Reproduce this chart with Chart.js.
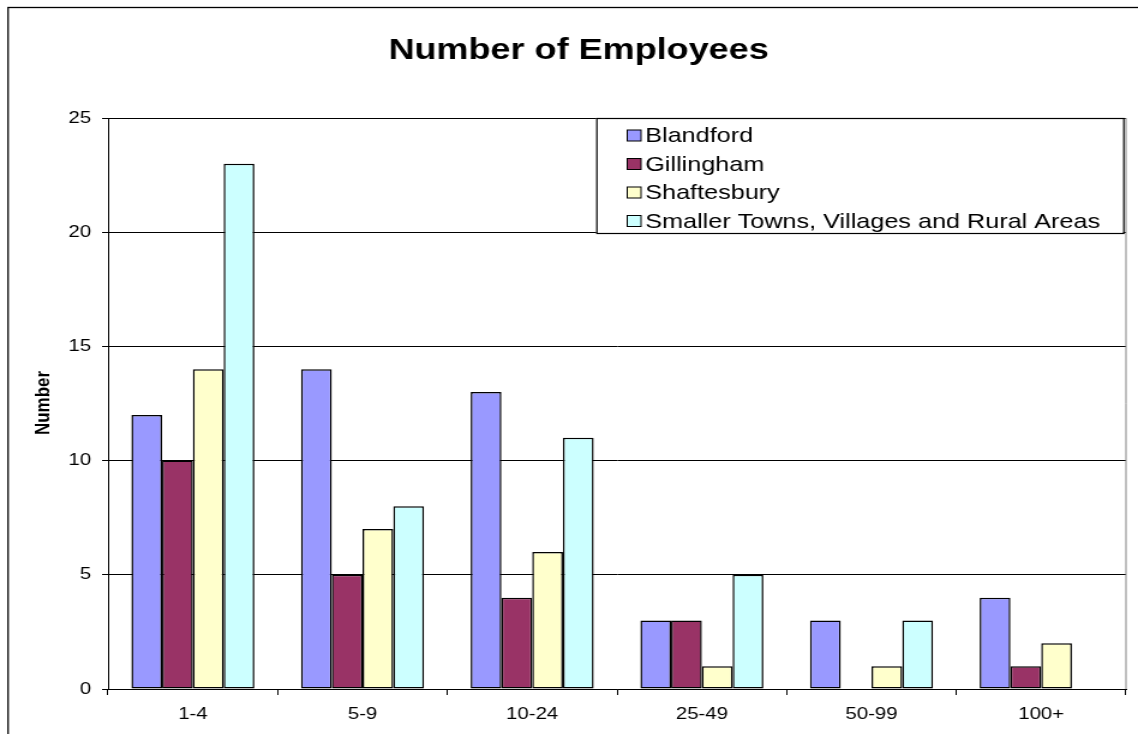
<!DOCTYPE html>
<html>
<head>
<meta charset="utf-8">
<script src="https://cdn.jsdelivr.net/npm/chart.js@4/dist/chart.umd.min.js"></script>
<style>
  html, body { margin: 0; padding: 0; background: #fff; overflow: hidden; }
  #employeesChart { display: block; width: 1138px; height: 734px; }
</style>
</head>
<body>
<canvas id="employeesChart" width="948" height="734" style="width:1138px;height:734px"></canvas>
<script>
const sizeBands = ['1-4', '5-9', '10-24', '25-49', '50-99', '100+'];
const blandford = [12, 14, 13, 3, 3, 4];
const gillingham = [10, 5, 4, 3, 0, 1];
const shaftesbury = [14, 7, 6, 1, 1, 2];
const ruralAreas = [23, 8, 11, 5, 3, 0];

const seriesNames = ['Blandford', 'Gillingham', 'Shaftesbury', 'Smaller Towns, Villages and Rural Areas'];
const seriesColors = ['#9999FF', '#993366', '#FFFFCC', '#CCFFFF'];
const seriesValues = [blandford, gillingham, shaftesbury, ruralAreas];

const FONT = "'Liberation Sans', Arial, sans-serif";

// frame, title, axis title, right edge and the boxed legend
const decorations = {
  id: 'decorations',
  afterDraw(chart) {
    const ctx = chart.ctx;
    const area = chart.chartArea;
    ctx.save();

    ctx.strokeStyle = '#000';
    ctx.lineWidth = 1.3;
    ctx.strokeRect(6.7, 7.5, 1000, 800);

    ctx.lineWidth = 1;
    ctx.strokeStyle = '#808080';
    ctx.beginPath();
    ctx.moveTo(area.right, area.top);
    ctx.lineTo(area.right, area.bottom);
    ctx.stroke();

    ctx.fillStyle = '#000';
    ctx.font = 'bold 30px ' + FONT;
    ctx.textAlign = 'center';
    ctx.textBaseline = 'alphabetic';
    ctx.fillText('Number of Employees', 482, 59);

    ctx.save();
    ctx.translate(36, 403);
    ctx.rotate(-Math.PI / 2);
    ctx.font = 'bold 17px ' + FONT;
    ctx.textBaseline = 'middle';
    ctx.fillText('Number', 0, 0);
    ctx.restore();

    // legend
    const box = { x: 496.7, y: 118, w: 439, h: 115 };
    ctx.fillStyle = '#fff';
    ctx.fillRect(box.x, box.y, box.w, box.h);
    ctx.strokeStyle = '#000';
    ctx.lineWidth = 1.2;
    ctx.strokeRect(box.x + 0.5, box.y + 0.5, box.w, box.h);

    ctx.font = '21px ' + FONT;
    ctx.textAlign = 'left';
    ctx.textBaseline = 'middle';
    const rowY = [135.5, 164, 192.5, 221];
    chart.data.datasets.forEach((ds, i) => {
      const y = rowY[i];
      ctx.fillStyle = ds.backgroundColor;
      ctx.fillRect(522.5, y - 5.5, 11.5, 11);
      ctx.strokeStyle = '#000';
      ctx.lineWidth = 1;
      ctx.strokeRect(522.5, y - 5.5, 11.5, 11);
      ctx.fillStyle = '#000';
      ctx.fillText(ds.label, 537.5, y + 1);
    });

    ctx.restore();
  }
};

const datasets = seriesNames.map((name, i) => ({
  label: name,
  data: seriesValues[i],
  backgroundColor: seriesColors[i],
  borderColor: '#000',
  borderWidth: 1.5,
  borderSkipped: false,
  categoryPercentage: 0.725,
  barPercentage: 1.0
}));

const chart = new Chart(document.getElementById('employeesChart'), {
  type: 'bar',
  data: { labels: sizeBands, datasets: datasets },
  options: {
    responsive: false,
    animation: false,
    devicePixelRatio: 1,
    layout: { padding: { top: 118, left: 0, right: 10, bottom: 0 } },
    plugins: {
      legend: { display: false },
      title: { display: false },
      tooltip: { enabled: false }
    },
    scales: {
      x: {
        offset: true,
        grid: {
          offset: true,
          drawOnChartArea: false,
          drawTicks: true,
          tickLength: 6,
          color: '#000'
        },
        border: { color: '#000' },
        ticks: {
          color: '#000',
          font: { family: FONT, size: 17 },
          padding: 9,
          maxRotation: 0
        },
        afterFit(scale) { scale.height = 45; }
      },
      y: {
        min: 0,
        max: 25,
        ticks: {
          stepSize: 5,
          color: '#000',
          font: { family: FONT, size: 17 },
          padding: 9
        },
        grid: { color: '#000', tickLength: 5 },
        border: { color: '#000' },
        afterFit(scale) { scale.width = 90; }
      }
    }
  },
  plugins: [decorations]
});
</script>
</body>
</html>
